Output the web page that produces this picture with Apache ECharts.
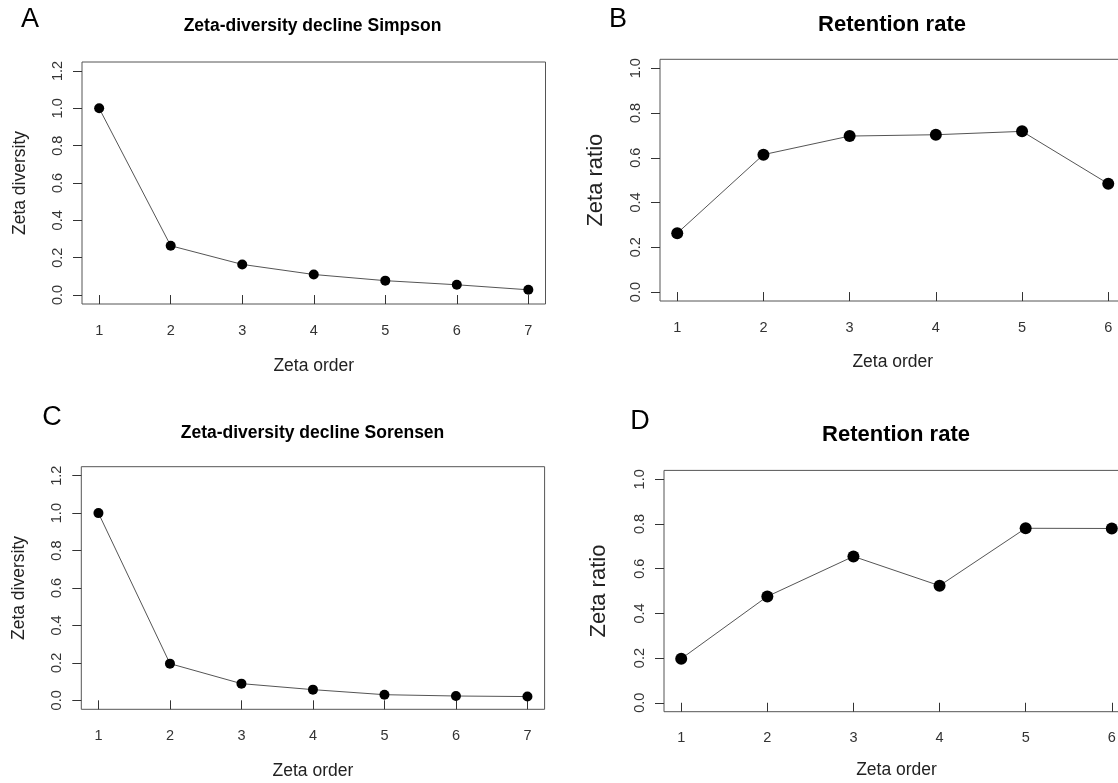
<!DOCTYPE html>
<html>
<head>
<meta charset="utf-8">
<script src="https://cdn.jsdelivr.net/npm/echarts@6/dist/echarts.min.js"></script>
<style>
  html, body { margin: 0; padding: 0; background: #fff; overflow: hidden; }
  #main { width: 1118px; height: 783px; }
</style>
</head>
<body>
<div id="main"></div>
<script>
// zeta order (x) for each panel
const ordersAC = [1, 2, 3, 4, 5, 6, 7];
const ordersBD = [1, 2, 3, 4, 5, 6];

// A: zeta-diversity decline, Simpson
const simpsonDecline = [1.0, 0.264, 0.164, 0.110, 0.077, 0.055, 0.028];
// B: retention rate (Simpson)
const simpsonRatio = [0.263, 0.614, 0.697, 0.703, 0.718, 0.484];
// C: zeta-diversity decline, Sorensen
const sorensenDecline = [1.0, 0.196, 0.089, 0.057, 0.030, 0.023, 0.020];
// D: retention rate (Sorensen)
const sorensenRatio = [0.197, 0.476, 0.655, 0.524, 0.781, 0.780];

// tick labels
const yTicksDecline = [0, 0.2, 0.4, 0.6, 0.8, 1.0, 1.2];
const yTicksRatio = [0, 0.2, 0.4, 0.6, 0.8, 1.0];

const FONT = '"Liberation Sans", Arial, sans-serif';

let chart = echarts.init(document.getElementById('main'));

let pairs = function(xs, ys) {
    return xs.map(function(x, i) { return [x, ys[i]]; });
};

// R-like axes: 4% padding around the data range, ticks only at the given values
let xAxisOf = function(idx, ticks, nameGap) {
    let lo = ticks[0], hi = ticks[ticks.length - 1], pad = (hi - lo) * 0.04;
    return {
        gridIndex: idx, type: 'value', min: lo - pad, max: hi + pad,
        name: 'Zeta order', nameLocation: 'middle', nameGap: nameGap,
        nameTextStyle: { fontFamily: FONT, fontSize: 17.5, color: '#222' },
        axisLine: { show: false },
        axisTick: { show: true, inside: false, length: 9, customValues: ticks,
            lineStyle: { color: '#333', width: 1 } },
        axisLabel: { show: true, margin: 19, customValues: ticks, fontFamily: FONT,
            fontSize: 14.5, color: '#333', formatter: function(v) { return String(v); } },
        splitLine: { show: false }
    };
};

let yAxisOf = function(idx, ticks, name, nameSize, nameGap) {
    let lo = ticks[0], hi = ticks[ticks.length - 1], pad = (hi - lo) * 0.04;
    return {
        gridIndex: idx, type: 'value', min: lo - pad, max: hi + pad,
        name: name, nameLocation: 'middle', nameGap: nameGap, nameRotate: 90,
        nameTextStyle: { fontFamily: FONT, fontSize: nameSize, color: '#222' },
        axisLine: { show: false },
        axisTick: { show: true, inside: false, length: 9, customValues: ticks,
            lineStyle: { color: '#333', width: 1 } },
        axisLabel: { show: true, margin: 17, rotate: 90, customValues: ticks, fontFamily: FONT,
            fontSize: 14.5, color: '#333', formatter: function(v) { return v.toFixed(1); } },
        splitLine: { show: false }
    };
};

let seriesOf = function(idx, xs, ys, size) {
    return {
        type: 'line', xAxisIndex: idx, yAxisIndex: idx,
        data: pairs(xs, ys),
        symbol: 'circle', symbolSize: size,
        itemStyle: { color: '#000' },
        lineStyle: { color: '#555', width: 1 },
        silent: true, animation: false
    };
};

let gridBox = { show: true, borderColor: '#555', borderWidth: 1, backgroundColor: 'transparent',
    outerBoundsMode: 'none', containLabel: false };

let textEl = function(x, y, text, size, bold) {
    return {
        type: 'text', x: x, y: y, silent: true,
        style: { text: text, fontFamily: FONT, fontSize: size, fontWeight: bold ? 'bold' : 'normal',
            fill: '#000', align: 'center', verticalAlign: 'middle' }
    };
};

let option = {
    backgroundColor: '#fff',
    animation: false,
    grid: [
        Object.assign({ left: 82, top: 62, width: 463.5, height: 242 }, gridBox),
        Object.assign({ left: 660, top: 59.3, width: 465.5, height: 241.7 }, gridBox),
        Object.assign({ left: 81.3, top: 466.7, width: 463.3, height: 242.6 }, gridBox),
        Object.assign({ left: 664, top: 470.4, width: 465, height: 241.3 }, gridBox)
    ],
    xAxis: [
        xAxisOf(0, ordersAC, 53),
        xAxisOf(1, ordersBD, 52),
        xAxisOf(2, ordersAC, 53),
        xAxisOf(3, ordersBD, 49)
    ],
    yAxis: [
        yAxisOf(0, yTicksDecline, 'Zeta diversity', 17.5, 53),
        yAxisOf(1, yTicksRatio, 'Zeta ratio', 22, 53),
        yAxisOf(2, yTicksDecline, 'Zeta diversity', 17.5, 53),
        yAxisOf(3, yTicksRatio, 'Zeta ratio', 22, 54)
    ],
    series: [
        seriesOf(0, ordersAC, simpsonDecline, 10),
        seriesOf(1, ordersBD, simpsonRatio, 12),
        seriesOf(2, ordersAC, sorensenDecline, 10),
        seriesOf(3, ordersBD, sorensenRatio, 12)
    ],
    graphic: [
        textEl(30, 20, 'A', 27, false),
        textEl(618, 20, 'B', 27, false),
        textEl(52, 418, 'C', 27, false),
        textEl(640, 422, 'D', 27, false),
        textEl(312.5, 26.5, 'Zeta-diversity decline Simpson', 17.5, true),
        textEl(892, 25, 'Retention rate', 22, true),
        textEl(312.5, 433, 'Zeta-diversity decline Sorensen', 17.5, true),
        textEl(896, 435, 'Retention rate', 22, true)
    ]
};

chart.setOption(option);
</script>
</body>
</html>
